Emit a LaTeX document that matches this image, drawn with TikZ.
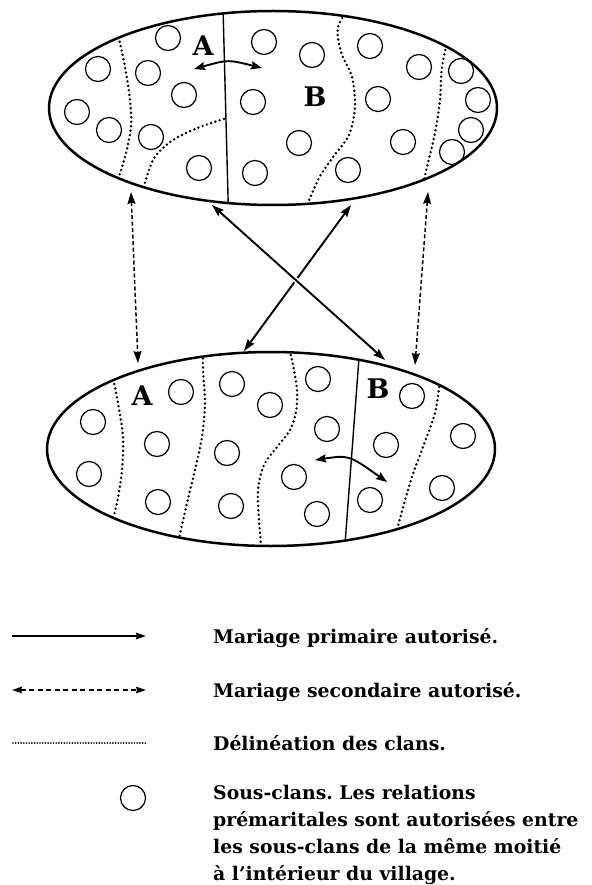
\documentclass[tikz,border=0pt]{standalone}
\usepackage{fontspec}
\setmainfont{DejaVu Serif}
\usetikzlibrary{arrows.meta,calc}

\tikzset{
  halfline/.style={line width=2.5pt},
  subclan/.style={circle, draw, line width=1.25pt, minimum size=25pt, inner sep=0pt},
  clanline/.style={line width=2.7pt, line cap=round, dash pattern=on 0pt off 4.5pt},
  moietyline/.style={line width=1.4pt},
  primary/.style={line width=1.9pt, {Stealth[length=12pt,width=8pt,inset=1.5pt]}-{Stealth[length=12pt,width=8pt,inset=1.5pt]}},
  secondary/.style={line width=1.5pt, dash pattern=on 4pt off 2.5pt, {Stealth[length=12pt,width=8pt,inset=1.5pt]}-{Stealth[length=12pt,width=8pt,inset=1.5pt]}},
  inner/.style={line width=1.9pt, {Stealth[length=11pt,width=8pt,inset=1.5pt]}-{Stealth[length=11pt,width=8pt,inset=1.5pt]}},
  halflabel/.style={font=\fontsize{27}{27}\selectfont\bfseries, inner sep=0pt},
  legendtext/.style={anchor=base west, inner sep=0pt, font=\fontsize{18.8}{27}\selectfont\bfseries\frenchspacing},
}

\begin{document}
\begin{tikzpicture}[x=1pt, y=-1pt]
\useasboundingbox (0,0) rectangle (591,885);

% ---------- upper village ----------
\begin{scope}
  \clip (273,108) ellipse [x radius=224pt, y radius=97pt];
  \draw[moietyline] (222.8,0) -- (228.5,215);
  \draw[clanline] plot[smooth] coordinates {(116,15) (118,33) (125,67) (130,100) (131,127) (125,157) (118,180) (114,200)};
  \draw[clanline] plot[smooth] coordinates {(224,119) (200,127) (173,140) (153,160) (140,200)};
  \draw[clanline] plot[smooth] coordinates {(352,3) (338,27) (341,52) (352,77) (355,107) (349,135) (333,157) (319,178) (305,210)};
  \draw[clanline] plot[smooth] coordinates {(450,28) (442,67) (440,100) (435,133) (427,167) (419,200)};
\end{scope}
\draw[halfline] (273,108) ellipse [x radius=224pt, y radius=97pt];

\foreach \n/\p in {a1/{(168,38)}, a2/{(98,69)}, a3/{(148,73)}, a4/{(184,95)},
                   a5/{(77,112)}, a6/{(109,130)}, a7/{(151,137)}, a8/{(199,168)},
                   b1/{(264,42)}, b2/{(312,55)}, b3/{(370,46)}, b4/{(419,67)},
                   b5/{(461,71)}, b6/{(478,100)}, b7/{(253,102)}, b8/{(378,99)},
                   b9/{(299,143)}, b10/{(403,142)}, b11/{(471,130)}, b12/{(452,152)},
                   b13/{(255,173)}, b14/{(348,170)}}
  \node[subclan] (u\n) at \p {};

\node[halflabel] (uA) at (203,46) {A};
\node[halflabel] (uB) at (315,97) {B};

\coordinate (uw1) at (194,69);
\coordinate (uw2) at (262,68);
\draw[inner] (uw1) .. controls (228,59.5) .. (uw2);

% ---------- lower village ----------
\begin{scope}
  \clip (271,449) ellipse [x radius=224pt, y radius=97pt];
  \draw[moietyline] (359.6,350) -- (344.4,552);
  \draw[clanline] plot[smooth] coordinates {(110,362) (113,378) (118,403) (123,437) (122,470) (117,503) (107,540)};
  \draw[clanline] plot[smooth] coordinates {(203,345) (203,370) (205,403) (202,437) (195,470) (187,503) (176,552)};
  \draw[clanline] plot[smooth] coordinates {(287,342) (292,360) (297,390) (296,412) (290,430) (277,447) (264,465) (258,490) (259,520) (262,555)};
  \draw[clanline] plot[smooth] coordinates {(444,365) (440,382) (435,413) (423,447) (410,483) (392,548)};
\end{scope}
\draw[halfline] (271,449) ellipse [x radius=224pt, y radius=97pt];

\foreach \n/\p in {a1/{(181,392)}, a2/{(232,384)}, a3/{(270,405)}, a4/{(318,379)},
                   a5/{(93,422)}, a6/{(157,444)}, a7/{(227,453)}, a8/{(327,429)},
                   a9/{(89,474)}, a10/{(294,477)}, a11/{(158,502)}, a12/{(231,506)},
                   a13/{(317,514)},
                   b1/{(412,396)}, b2/{(386,445)}, b3/{(463,436)}, b4/{(370,500)},
                   b5/{(442,488)}}
  \node[subclan] (l\n) at \p {};

\node[halflabel] (lA) at (142,396) {A};
\node[halflabel] (lB) at (378,389) {B};

\coordinate (lw1) at (315,460);
\coordinate (lw2) at (387,482);
\draw[inner] (lw1) .. controls (349,455) .. (lw2);

% ---------- marriages between the two villages ----------
\coordinate (sl1) at (131,192);
\coordinate (sl2) at (138,363);
\coordinate (sr1) at (428,192);
\coordinate (sr2) at (415,365);
\draw[secondary] (sl1) -- (sl2);
\draw[secondary] (sr1) -- (sr2);

\coordinate (pa1) at (212,205);
\coordinate (pa2) at (385,360);
\coordinate (pb1) at (351,205);
\coordinate (pb2) at (244,351);
\draw[primary] (pb1) -- (pb2);
\draw[white, line width=5pt] ($(pa1)!0.455!(pa2)$) -- ($(pa1)!0.515!(pa2)$);
\draw[primary] (pa1) -- (pa2);

% ---------- legend ----------
\coordinate (k1a) at (12,636);
\coordinate (k1b) at (146,636);
\draw[line width=1.9pt, -{Stealth[length=10pt,width=6.5pt,inset=1pt]}] (k1a) -- (k1b);
\node[legendtext] (k1) at (213,643) {Mariage primaire autorisé.};

\coordinate (k2a) at (12,690);
\coordinate (k2b) at (146,690);
\draw[line width=1.7pt, dash pattern=on 5pt off 3.5pt,
      {Stealth[length=10pt,width=6.5pt,inset=1pt]}-{Stealth[length=10pt,width=6.5pt,inset=1pt]}] (k2a) -- (k2b);
\node[legendtext] (k2) at (213,697) {Mariage secondaire autorisé.};

\coordinate (k3a) at (13,743);
\coordinate (k3b) at (146,743);
\draw[line width=1.9pt, line cap=round, dash pattern=on 0pt off 2.7pt] (k3a) -- (k3b);
\node[legendtext] (k3) at (213,750) {Délinéation des clans.};

\node[subclan] (k4c) at (133,798) {};
\node[legendtext, align=left] (k4) at (213,880) {Sous-clans. Les relations\\prémaritales sont autorisées entre\\les sous-clans de la même moitié\\à l’intérieur du village.};

\end{tikzpicture}
\end{document}
